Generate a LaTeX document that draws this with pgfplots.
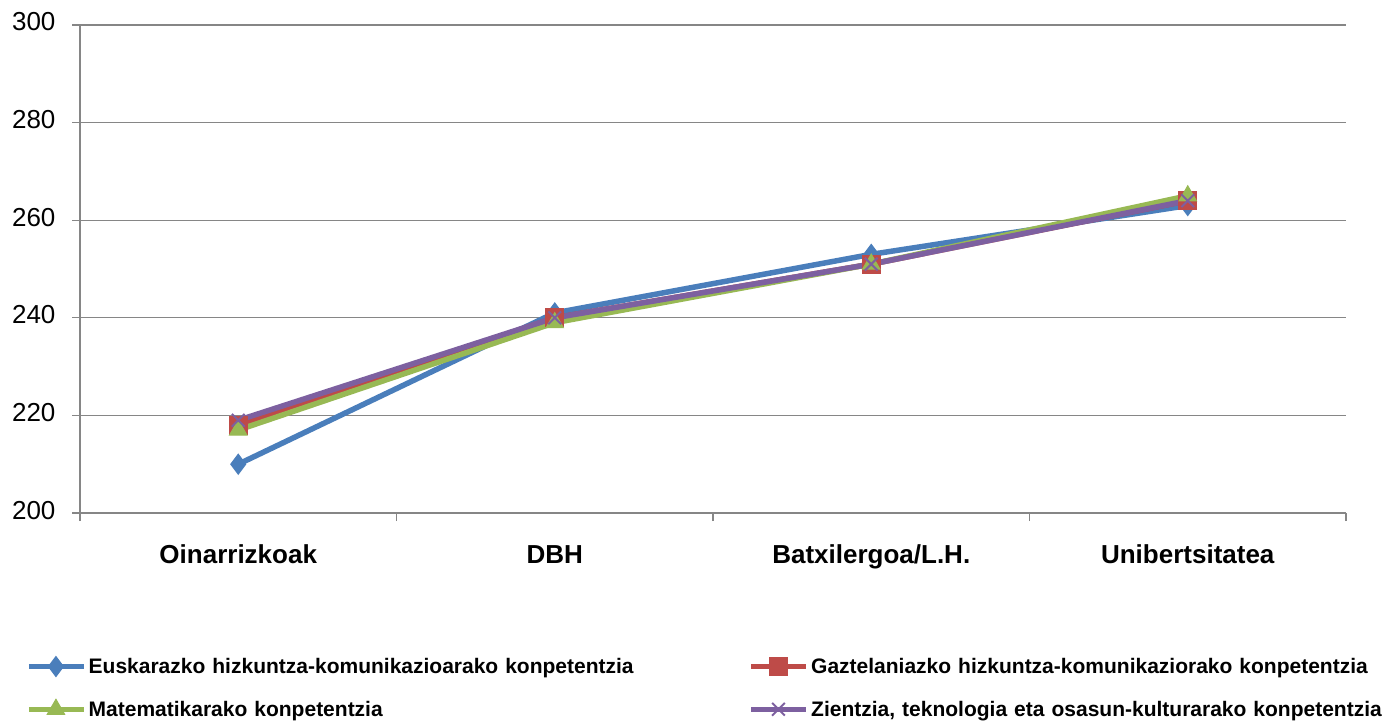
\documentclass[border=0pt]{standalone}
\usepackage{pgfplots}
\pgfplotsset{compat=1.18}
\usepackage{fontspec}
\setmainfont{Liberation Sans}
\definecolor{cBlue}{RGB}{74,126,187}
\definecolor{cRed}{RGB}{190,75,72}
\definecolor{cGreen}{RGB}{152,185,84}
\definecolor{cPurple}{RGB}{125,96,160}
\definecolor{cAxis}{RGB}{134,134,134}
\begin{document}
\begin{tikzpicture}
\path[use as bounding box] (-80pt,-209pt) rectangle (1308pt,513pt);
\begin{axis}[
  at={(0,0)}, anchor=south west,
  scale only axis,
  width=1266pt, height=488pt,
  xmin=-0.5, xmax=3.5,
  ymin=200, ymax=300,
  xtick={0,1,2,3},
  xticklabels={Oinarrizkoak,DBH,Batxilergoa/L.H.,Unibertsitatea},
  minor xtick={-0.5,0.5,1.5,2.5,3.5},
  ytick={200,220,...,300},
  axis x line*=bottom, axis y line*=left,
  axis line style={draw=cAxis, line width=1.3pt, -},
  tick align=outside,
  major x tick style={draw=none},
  minor x tick style={draw=cAxis, line width=1.3pt},
  minor tick length=8pt,
  major tick length=8pt,
  ytick style={draw=cAxis, line width=1.3pt},
  ymajorgrids,
  grid style={draw=cAxis, line width=1.3pt},
  typeset ticklabels with strut,
  x tick label style={font=\fontsize{26}{30}\selectfont\bfseries, yshift=-18pt},
  y tick label style={font=\fontsize{26}{30}\selectfont, xshift=-13pt},
  /pgf/number format/assume math mode=true,
  legend columns=2,
  legend cell align=left,
  legend style={draw=none, fill=none, at={(0,0)}, anchor=north west,
    xshift=-57pt, yshift=-141pt,
    font=\fontsize{21}{25}\selectfont\bfseries,
    nodes={text width=658pt, inner sep=2pt},
    row sep=22pt, column sep=0pt},
  legend image code/.code={
    \draw[mark repeat=2, mark phase=2] plot coordinates {(0pt,0pt) (27pt,0pt) (55pt,0pt)};
  },
  every axis plot/.append style={line width=5.5pt},
]
\addplot[cBlue, mark=diamond*, mark size=10pt, mark options={solid, line width=1pt}]
  coordinates {(0,210) (1,241) (2,253) (3,263)};
\addlegendentry{Euskarazko hizkuntza-komunikazioarako konpetentzia}
\addplot[cRed, mark=square*, mark size=9pt, mark options={solid, line width=1pt}]
  coordinates {(0,218) (1,240) (2,251) (3,264)};
\addlegendentry{Gaztelaniazko hizkuntza-komunikaziorako konpetentzia}
\addplot[cGreen, mark=triangle*, mark size=10pt, mark options={solid, line width=1pt}]
  coordinates {(0,217) (1,239) (2,251) (3,265)};
\addlegendentry{Matematikarako konpetentzia}
\addplot[cPurple, mark=x, mark size=9pt, mark options={solid, line width=2pt}]
  coordinates {(0,219) (1,240) (2,251) (3,264)};
\addlegendentry{Zientzia, teknologia eta osasun-kulturarako konpetentzia}
\end{axis}
\end{tikzpicture}
\end{document}
